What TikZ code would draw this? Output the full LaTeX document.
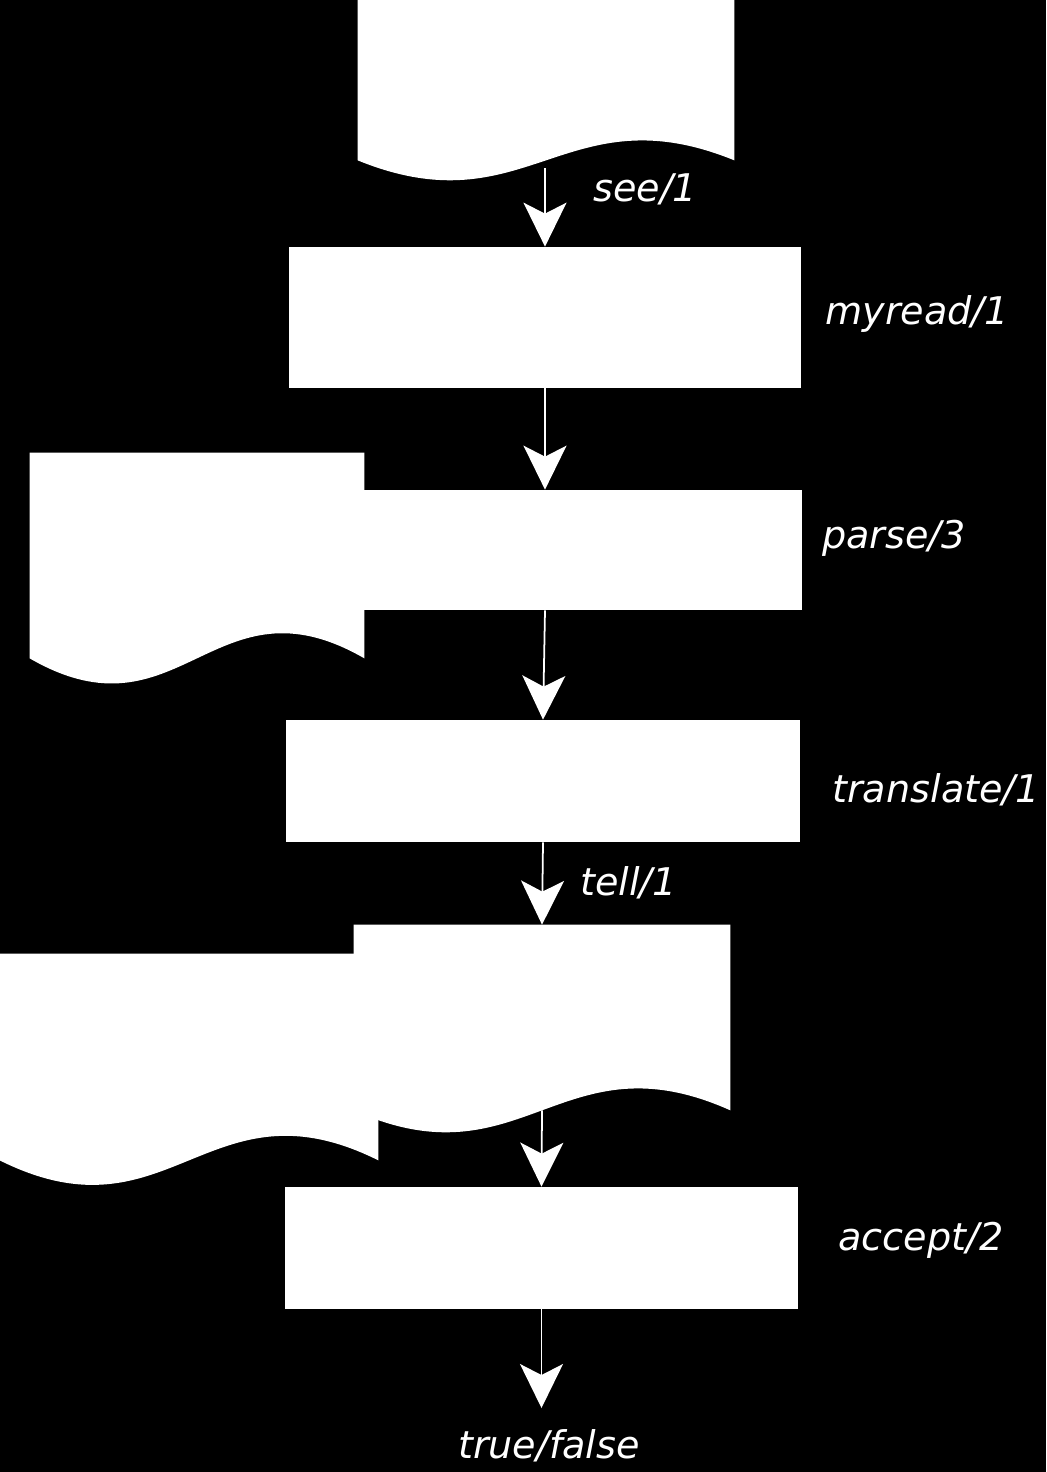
\documentclass[tikz,border=0pt]{standalone}
\usepackage{fontspec}
\setmainfont{DejaVu Sans}
\usepackage{tikz}
\usetikzlibrary{arrows.meta,positioning,calc}
% document symbol: straight body from a node, wavy lower edge
\newcommand{\docwave}[2]{%
  \fill[white] (#1.north west) -- (#1.north east) -- (#1.south east)
    .. controls ($(#1.south east)!0.45!(#1.south west)+(0,#2)$)
    and ($(#1.south east)!0.55!(#1.south west)+(0,-#2)$) .. (#1.south west) -- cycle;}

\begin{document}
\begin{tikzpicture}[font=\fontsize{21.7}{26}\selectfont\itshape]
\tikzset{stepbox/.style={fill=white,draw=none,inner sep=0pt},
  docbody/.style={draw=none,inner sep=0pt},
  lbl/.style={text=white,inner sep=0pt},
  flow/.style={draw=white,line width=1pt,-{Stealth[length=0.88cm,width=0.86cm,inset=0.22cm]}}}
\fill[black] (0,0) rectangle (20.92,-29.44);
\useasboundingbox (0,0) rectangle (20.92,-29.44);

\node[docbody,minimum width=7.52cm,minimum height=3.2cm] (src) at (10.92,-1.6) {};
\docwave{src}{1.38cm}
\node[stepbox,minimum width=10.24cm,minimum height=2.82cm] (myread) at (10.9,-6.35) {};
\node[docbody,minimum width=6.68cm,minimum height=4.1cm] (tree) at (3.94,-11.11) {};
\docwave{tree}{1.74cm}
\node[stepbox,minimum width=8.76cm,minimum height=2.4cm] (parse) at (11.66,-11.0) {};
\node[stepbox,minimum width=10.28cm,minimum height=2.44cm] (translate) at (10.86,-15.62) {};
\node[docbody,minimum width=7.52cm,minimum height=3.7cm] (out) at (10.84,-20.35) {};
\docwave{out}{1.52cm}
\node[docbody,minimum width=7.56cm,minimum height=4.12cm] (spec) at (3.78,-21.14) {};
\docwave{spec}{1.7cm}
\node[stepbox,minimum width=10.26cm,minimum height=2.44cm] (accept) at (10.83,-24.96) {};
\node[lbl] (result) at (10.98,-28.92) {true/false};
\coordinate (end) at (10.83,-28.16);

\draw[flow,shorten <=0.16cm] (myread.north |- src.south) -- (myread.north);
\draw[flow] (myread.south) -- (myread.south |- parse.north);
\draw[flow] (myread.south |- parse.south) -- (translate.north);
\draw[flow] (translate.south) -- (out.north);
\draw[flow] (out.south) -- (accept.north);
\draw[flow] (accept.south) -- (end);

\node[lbl,anchor=west] at (11.86,-3.78) {see/1};
\node[lbl,anchor=west] at (16.5,-6.28) {myread/1};
\node[lbl,anchor=west] at (16.44,-10.76) {parse/3};
\node[lbl,anchor=west] at (16.64,-15.8) {translate/1};
\node[lbl,anchor=west] at (11.6,-17.66) {tell/1};
\node[lbl,anchor=west] at (16.76,-24.8) {accept/2};
\end{tikzpicture}
\end{document}
